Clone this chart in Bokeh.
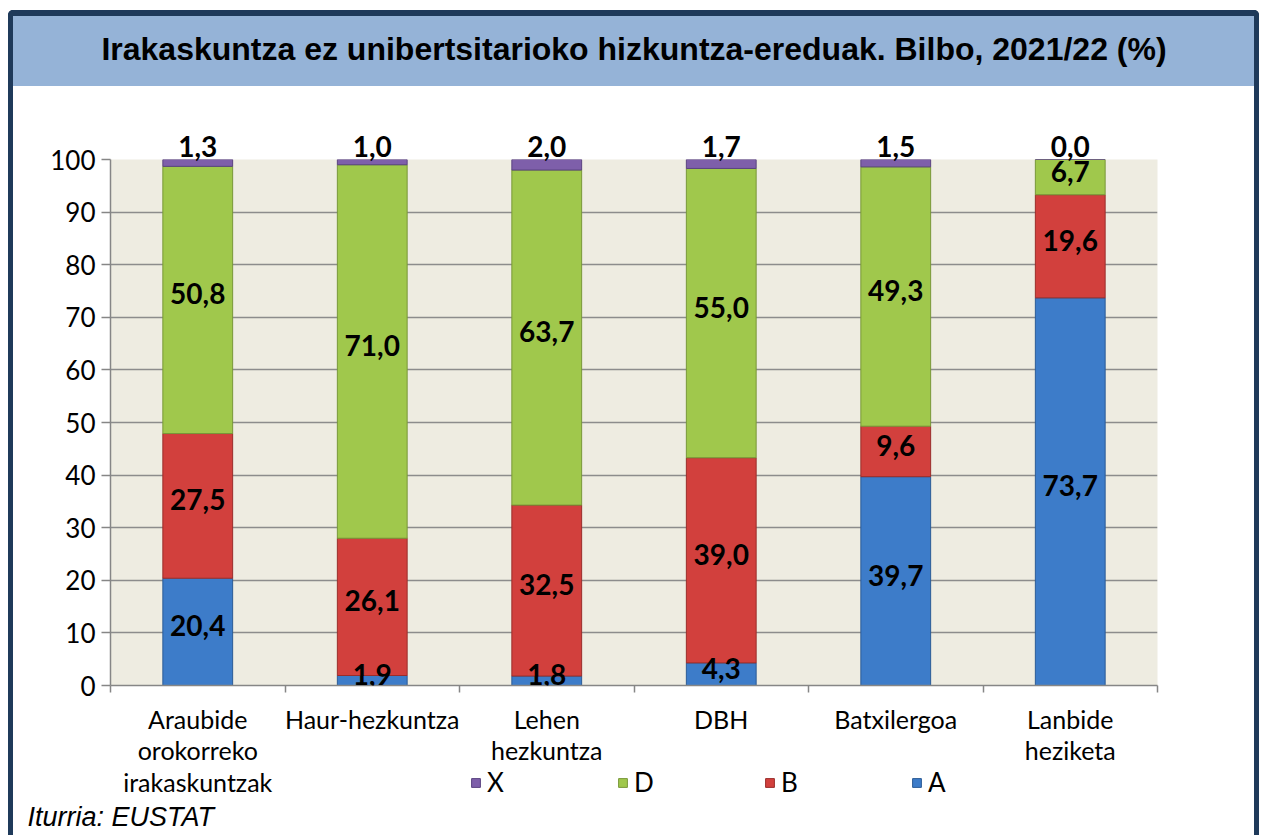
import numpy as np
from bokeh.plotting import figure
from bokeh.models import (ColumnDataSource, LabelSet, Label, Legend, LegendItem,
                          FixedTicker, Range1d, LinearAxis)
from bokeh.layouts import column
from bokeh.embed import file_html
from bokeh.resources import INLINE
from bokeh.core.properties import value

# ---------------- data ----------------
categories = ["Araubide\norokorreko\nirakaskuntzak", "Haur-hezkuntza", "Lehen\nhezkuntza",
              "DBH", "Batxilergoa", "Lanbide\nheziketa"]
A = [20.4, 1.9, 1.8, 4.3, 39.7, 73.7]
B = [27.5, 26.1, 32.5, 39.0, 9.6, 19.6]
D = [50.8, 71.0, 63.7, 55.0, 49.3, 6.7]
X = [1.3, 1.0, 2.0, 1.7, 1.5, 0.0]
y_ticks = [0, 10, 20, 30, 40, 50, 60, 70, 80, 90, 100]
title_text = "Irakaskuntza ez unibertsitarioko hizkuntza-ereduak. Bilbo, 2021/22 (%)"
source_text = "Iturria: EUSTAT"

colors = {"A": "#3D7CC9", "B": "#D2403D", "D": "#A0C84C", "X": "#7E5FAA"}
edges = {"A": "#2B5B96", "B": "#9A2D2A", "D": "#789838", "X": "#5A4380"}

LABEL_FONT = value("Lato")
FRAME = "#1F3A5A"
BAND = "#95B3D7"
W = 1241


def fmt(v):
    return f"{v:.1f}".replace(".", ",")


# ---------------- title band ----------------
t = figure(width=W, height=70, x_range=Range1d(0, 1), y_range=Range1d(0, 1),
           toolbar_location=None, output_backend="svg", min_border=0,
           x_axis_location=None, y_axis_location=None, frame_align=False)
t.grid.visible = False
t.outline_line_color = None
t.background_fill_alpha = 0
t.border_fill_alpha = 0
t.text(x=[0.5], y=[0.54], text=[title_text], text_align="center", text_baseline="middle",
       text_font=value("Liberation Sans"), text_font_style="bold", text_font_size="32px",
       text_color="black")

# ---------------- main chart ----------------
n = len(categories)
xs = list(np.arange(n) + 0.5)
src = ColumnDataSource(dict(x=xs, A=A, B=B, D=D, X=X))

p = figure(frame_width=1047, frame_height=526, x_range=Range1d(0, n), y_range=Range1d(0, 100),
           toolbar_location=None, output_backend="svg",
           min_border_left=97, min_border_right=97, min_border_top=73, min_border_bottom=120)
p.background_fill_color = "#EEECE1"
p.border_fill_alpha = 0
p.outline_line_color = None

stack = ["A", "B", "D", "X"]
rends = p.vbar_stack(stack, x="x", width=0.4, source=src,
                     fill_color=[colors[s] for s in stack],
                     line_color=[edges[s] for s in stack], line_width=1)

# bottom axis: category names, ticks between categories
p.xaxis.ticker = FixedTicker(ticks=xs, minor_ticks=list(range(n + 1)))
p.xaxis.major_label_overrides = {float(x): c for x, c in zip(xs, categories)}
p.xaxis.major_tick_line_color = None
p.xaxis.major_tick_out = 0
p.xaxis.major_tick_in = 0
p.xaxis.minor_tick_out = 7
p.xaxis.minor_tick_in = 0
p.xaxis.minor_tick_line_color = "#868686"
p.xaxis.minor_tick_line_width = 1.5
p.xaxis.major_label_standoff = 11
p.xaxis.major_label_text_font = "Lato"
p.xaxis.major_label_text_font_size = "25px"
p.xaxis.major_label_text_line_height = 1.05
p.xaxis.major_label_text_color = "black"

p.yaxis.ticker = FixedTicker(ticks=y_ticks, minor_ticks=[])
p.yaxis.major_tick_out = 9
p.yaxis.major_tick_in = 0
p.yaxis.major_tick_line_color = "#868686"
p.yaxis.major_tick_line_width = 1.5
p.yaxis.major_label_standoff = 6
p.yaxis.major_label_text_font = "Lato"
p.yaxis.major_label_text_font_size = "26px"
p.yaxis.major_label_text_color = "black"

for ax in (p.xaxis[0], p.yaxis[0]):
    ax.axis_line_color = "#868686"
    ax.axis_line_width = 1.5

# top axis carrying the X-model values above each bar
top_axis = LinearAxis(ticker=FixedTicker(ticks=xs, minor_ticks=[]),
                      major_label_overrides={float(x): fmt(v) for x, v in zip(xs, X)},
                      axis_line_color=None, major_tick_line_color=None,
                      major_tick_out=0, major_tick_in=0, major_label_standoff=3,
                      major_label_text_font="Lato", major_label_text_font_style="bold",
                      major_label_text_font_size="28px", major_label_text_color="black")
p.add_layout(top_axis, "above")

p.xgrid.visible = False
p.ygrid.ticker = FixedTicker(ticks=y_ticks)
p.ygrid.grid_line_color = "#8C8C8C"
p.ygrid.grid_line_width = 1.5

# value labels inside the segments
bottom = np.zeros(n)
for s, vals in zip(["A", "B", "D"], [A, B, D]):
    vals = np.array(vals)
    ls = ColumnDataSource(dict(x=xs, y=list(bottom + vals / 2), t=[fmt(v) for v in vals]))
    p.add_layout(LabelSet(x="x", y="y", text="t", source=ls, text_align="center",
                          text_baseline="middle", y_offset=6, text_font=LABEL_FONT,
                          text_font_style="bold", text_font_size="28px", text_color="black"))
    bottom = bottom + vals

# ---------------- legend + source note (overlapping strip) ----------------
q = figure(width=W, height=80, x_range=Range1d(0, 1), y_range=Range1d(0, 1),
           toolbar_location=None, output_backend="svg", min_border=0,
           x_axis_location=None, y_axis_location=None, frame_align=False,
           styles={"margin-top": "-50px"})
q.grid.visible = False
q.outline_line_color = None
q.background_fill_alpha = 0
q.border_fill_alpha = 0

# hidden legend proxies that share the chart's data
proxies = {}
for s in ["X", "D", "B", "A"]:
    proxies[s] = q.vbar(x="x", top=s, width=0.4, source=src, fill_color=colors[s],
                        line_color=edges[s], visible=False)

legend = Legend(items=[LegendItem(label=s, renderers=[proxies[s]]) for s in ["X", "D", "B", "A"]],
                orientation="horizontal", location=(457, 37),
                glyph_width=11, glyph_height=11, label_standoff=6, label_width=120, spacing=10,
                padding=0, margin=0, background_fill_alpha=0, border_line_color=None,
                inactive_fill_alpha=0,
                label_text_font="Lato", label_text_font_size="26px", label_text_color="black")
q.add_layout(legend, "center")

q.add_layout(Label(x=14, y=19, x_units="screen", y_units="screen", text=source_text,
                   text_font="Liberation Sans", text_font_style="italic",
                   text_font_size="27px", text_baseline="middle", text_color="black"))

layout = column(t, p, q, spacing=0,
                styles={"border-top": f"6px solid {FRAME}", "border-left": f"5px solid {FRAME}",
                        "border-right": f"5px solid {FRAME}", "border-radius": "5px 5px 0 0",
                        "margin-left": "8px", "margin-top": "10px",
                        "background": f"linear-gradient(to bottom, {BAND} 0px, {BAND} 70px, #FFFFFF 70px)"})

open("out.html", "w").write(file_html(layout, INLINE))
